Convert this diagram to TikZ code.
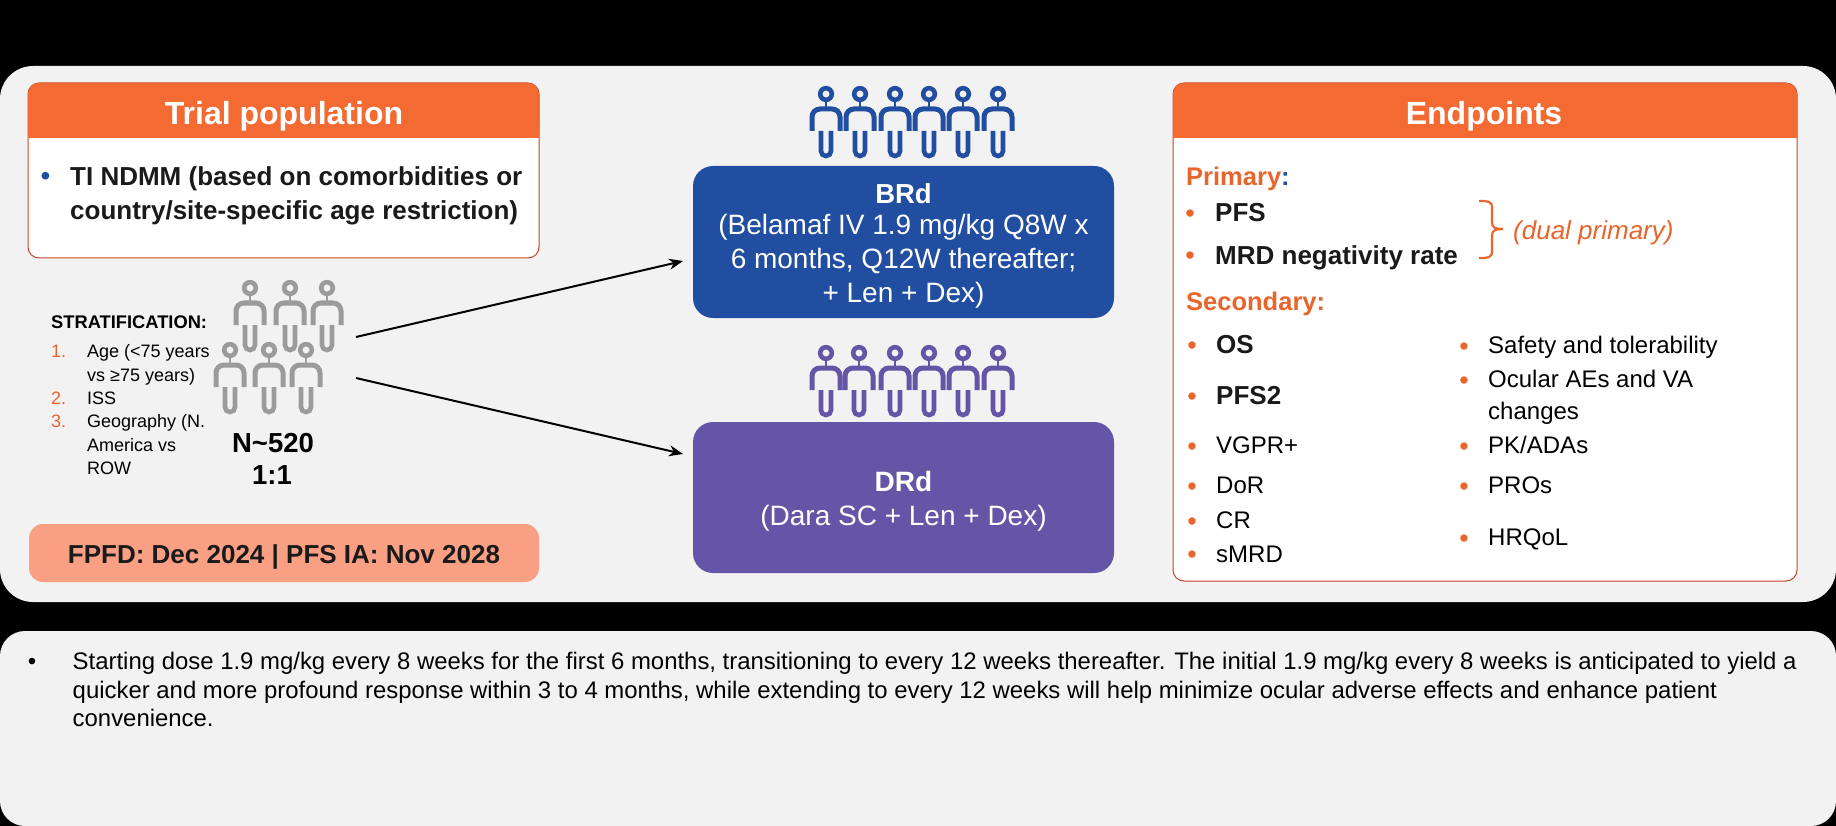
\documentclass[tikz,border=0pt]{standalone}
\usepackage{fontspec}
\setmainfont{Liberation Sans}
\usetikzlibrary{arrows.meta}
\definecolor{panelgray}{HTML}{F2F2F2}
\definecolor{hdrorange}{HTML}{F46A33}
\definecolor{txtorange}{HTML}{E8652C}
\definecolor{edgered}{HTML}{C5452B}
\definecolor{brdblue}{HTML}{214EA1}
\definecolor{drdpurple}{HTML}{6555A6}
\definecolor{salmon}{HTML}{F9A084}
\definecolor{persongray}{HTML}{9B9B9B}
\definecolor{darktxt}{HTML}{1A1A1A}
\newcommand{\fs}[2]{\fontsize{#1}{#2}\selectfont}
\newcommand{\person}[3]{%
  \begin{scope}[shift={(#1,#2)},draw=#3,line cap=butt]
    \draw[line width=4.6] (0,0) circle[radius=5.8];
    \draw[line width=2.6] (0,7) -- (0,15);
    \draw[line width=5,rounded corners=8] (-14,37) -- (-14,15) -- (14,15) -- (14,37);
    \draw[line width=4.6,rounded corners=4.8] (-5,37) -- (-5,62) -- (5,62) -- (5,37);
  \end{scope}}
\tikzset{
  hdr/.style={text=white,font=\bfseries\fs{32}{36},inner sep=0,anchor=base},
  boldtxt/.style={inner sep=0,anchor=base west,text=darktxt,font=\bfseries\fs{26}{30}},
  regtxt/.style={inner sep=0,anchor=base west,text=black,font=\fs{24}{30}},
  strat/.style={inner sep=0,anchor=base west,text=black,font=\fs{18}{22}},
  stratnum/.style={inner sep=0,anchor=base west,text=txtorange,font=\fs{18}{22}},
  bul/.style={inner sep=0,anchor=base,text=txtorange,font=\fs{27}{30}},
  armbox/.style={rounded corners=20,minimum width=421,minimum height=#1,inner sep=0},
  armtext/.style={text=white,align=center,inner sep=0,font=\fs{28}{34}},
  card/.style={fill=white,draw=edgered,line width=1,rounded corners=11},
  flow/.style={-{Stealth[length=14,width=11]},line width=2,black},
  bracepath/.style={draw=txtorange,line width=2.2},
}
\begin{document}
\begin{tikzpicture}[x=1pt,y=-1pt]
\useasboundingbox (0,0) rectangle (1836,826);
\fill[black] (0,0) rectangle (1836,826);
% panels
\fill[panelgray,rounded corners=33] (0,66) rectangle (1836,602);
\fill[panelgray,rounded corners=25] (0,631) rectangle (1836,826);
% trial population card
\draw[card] (28,83) rectangle (539,258);
\fill[hdrorange,rounded corners=11] (28,138) -- (28,83) -- (539,83) -- (539,138) -- cycle;
\fill[hdrorange] (28,120) rectangle (539,138);
\node[hdr] (trial) at (284,125) {Trial population};
\node[bul,text=brdblue,font=\fs{28}{30}] (tb) at (45.5,186) {•};
\node[inner sep=0,anchor=base west,text=darktxt,font=\bfseries\fs{26}{34}] (ti) at (70,186) {TI NDMM (based on comorbidities or};
\node[inner sep=0,anchor=base west,text=darktxt,font=\bfseries\fs{26}{34}] (ti2) at (70,220) {country/site-specific age restriction)};
% stratification
\node[strat,font=\bfseries\fs{18.3}{22}] (st) at (51,328) {STRATIFICATION:};
\node[stratnum] (n1) at (51,357) {1.};
\node[strat] (s1) at (87,357) {Age (<75 years};
\node[strat] (s1b) at (87,381) {vs ≥75 years)};
\node[stratnum] (n2) at (51,404) {2.};
\node[strat] (s2) at (87,404) {ISS};
\node[stratnum] (n3) at (51,427) {3.};
\node[strat] (s3) at (87,427) {Geography (N.};
\node[strat] (s3b) at (87,451) {America vs};
\node[strat] (s3c) at (87,474) {ROW};
% gray people
\person{250}{288}{persongray}
\person{290}{288}{persongray}
\person{327}{288}{persongray}
\person{230}{350}{persongray}
\person{269}{350}{persongray}
\person{306}{350}{persongray}
\node[inner sep=0,anchor=base,font=\bfseries\fs{27.5}{32},text=black] (nn) at (273,452) {N\textasciitilde 520};
\node[inner sep=0,anchor=base,font=\bfseries\fs{27.5}{32},text=black] (rr) at (272,484) {1:1};
% dates
\node[rounded corners=14,fill=salmon,minimum width=510,minimum height=58,inner sep=0,text=darktxt,text height=26,text depth=6,font=\bfseries\fs{26}{30}] (fpfd) at (284,553) {FPFD: Dec 2024 | PFS IA: Nov 2028};
% arms
\person{826}{94}{brdblue}
\person{860}{94}{brdblue}
\person{895}{94}{brdblue}
\person{929}{94}{brdblue}
\person{963}{94}{brdblue}
\person{998}{94}{brdblue}
\node[armbox=152,fill=brdblue] (brd) at (903.5,242) {};
\node[armtext] (brdt) at (903.5,245.5) {\fs{27.5}{34}\textbf{BRd}\\[-3pt](Belamaf IV 1.9 mg/kg Q8W x\\6 months, Q12W thereafter;\\+ Len + Dex)};
\person{826}{353}{drdpurple}
\person{859}{353}{drdpurple}
\person{895}{353}{drdpurple}
\person{929}{353}{drdpurple}
\person{963}{353}{drdpurple}
\person{998}{353}{drdpurple}
\node[armbox=151,fill=drdpurple] (drd) at (903.5,497.5) {};
\node[armtext] (drdt) at (903.5,501) {\textbf{DRd}\\(Dara SC + Len + Dex)};
% arrows
\coordinate (g1) at (356,337);
\coordinate (g2) at (356,378);
\coordinate (t1) at (683,261);
\coordinate (t2) at (683,454);
\draw[flow] (g1) -- (t1);
\draw[flow] (g2) -- (t2);
% endpoints card
\draw[card] (1173,83) rectangle (1797,581);
\fill[hdrorange,rounded corners=11] (1173,138) -- (1173,83) -- (1797,83) -- (1797,138) -- cycle;
\fill[hdrorange] (1173,120) rectangle (1797,138);
\node[hdr] (endp) at (1484,125) {Endpoints};
\node[inner sep=0,anchor=base west,font=\bfseries\fs{25.5}{30},text=txtorange] (prim) at (1186,186) {Primary\textcolor{brdblue}{:}};
\node[bul] (bp1) at (1190,223) {•};
\node[boldtxt] (p1) at (1215,222) {PFS};
\node[bul] (bp2) at (1190,265) {•};
\node[boldtxt] (p2) at (1215,265) {MRD negativity rate};
\coordinate (brtop) at (1479,201);
\coordinate (brbot) at (1479,258);
\coordinate (brtip) at (1503,229);
\draw[bracepath] (brtop) .. controls (1488,201) and (1492,201) .. (1492,208) -- (1492,222) .. controls (1492,227) and (1494,229) .. (brtip);
\draw[bracepath] (brbot) .. controls (1488,258) and (1492,258) .. (1492,251) -- (1492,236) .. controls (1492,231) and (1494,229) .. (brtip);
\node[inner sep=0,anchor=base west,font=\itshape\fs{26}{30},text=txtorange] (dual) at (1513,240) {(dual primary)};
\node[inner sep=0,anchor=base west,font=\bfseries\fs{25.5}{30},text=txtorange] (sec) at (1186,310) {Secondary:};
\node[bul] (b1) at (1192,354) {•};
\node[boldtxt] (e1) at (1216,353) {OS};
\node[bul] (b2) at (1192,405) {•};
\node[boldtxt] (e2) at (1216,404) {PFS2};
\node[bul] (b3) at (1192,455) {•};
\node[regtxt] (e3) at (1216,453) {VGPR+};
\node[bul] (b4) at (1192,495) {•};
\node[regtxt] (e4) at (1216,493) {DoR};
\node[bul] (b5) at (1192,530) {•};
\node[regtxt] (e5) at (1216,528) {CR};
\node[bul] (b6) at (1192,563) {•};
\node[regtxt] (e6) at (1216,562) {sMRD};
\node[bul] (c1) at (1464,355) {•};
\node[regtxt] (f1) at (1488,353) {Safety and tolerability};
\node[bul] (c2) at (1464,389) {•};
\node[regtxt] (f2) at (1488,387) {Ocular AEs and VA};
\node[regtxt] (f2b) at (1488,419) {changes};
\node[bul] (c3) at (1464,455) {•};
\node[regtxt] (f3) at (1488,453) {PK/ADAs};
\node[bul] (c4) at (1464,495) {•};
\node[regtxt] (f4) at (1488,493) {PROs};
\node[bul] (c5) at (1464,547) {•};
\node[regtxt] (f5) at (1488,545) {HRQoL};
% bottom note
\node[inner sep=0,anchor=base,font=\fs{24}{30},text=black] (nb) at (32,669) {•};
\node[inner sep=0,anchor=base west,font=\fs{23.92}{30},text=black] (l1) at (72.5,669) {Starting dose 1.9 mg/kg every 8 weeks for the first 6 months, transitioning to every 12 weeks thereafter. The initial 1.9 mg/kg every 8 weeks is anticipated to yield a};
\node[inner sep=0,anchor=base west,font=\fs{23.92}{30},text=black] (l2) at (72.5,698) {quicker and more profound response within 3 to 4 months, while extending to every 12 weeks will help minimize ocular adverse effects and enhance patient};
\node[inner sep=0,anchor=base west,font=\fs{23.92}{30},text=black] (l3) at (72.5,726) {convenience.};
\end{tikzpicture}
\end{document}
